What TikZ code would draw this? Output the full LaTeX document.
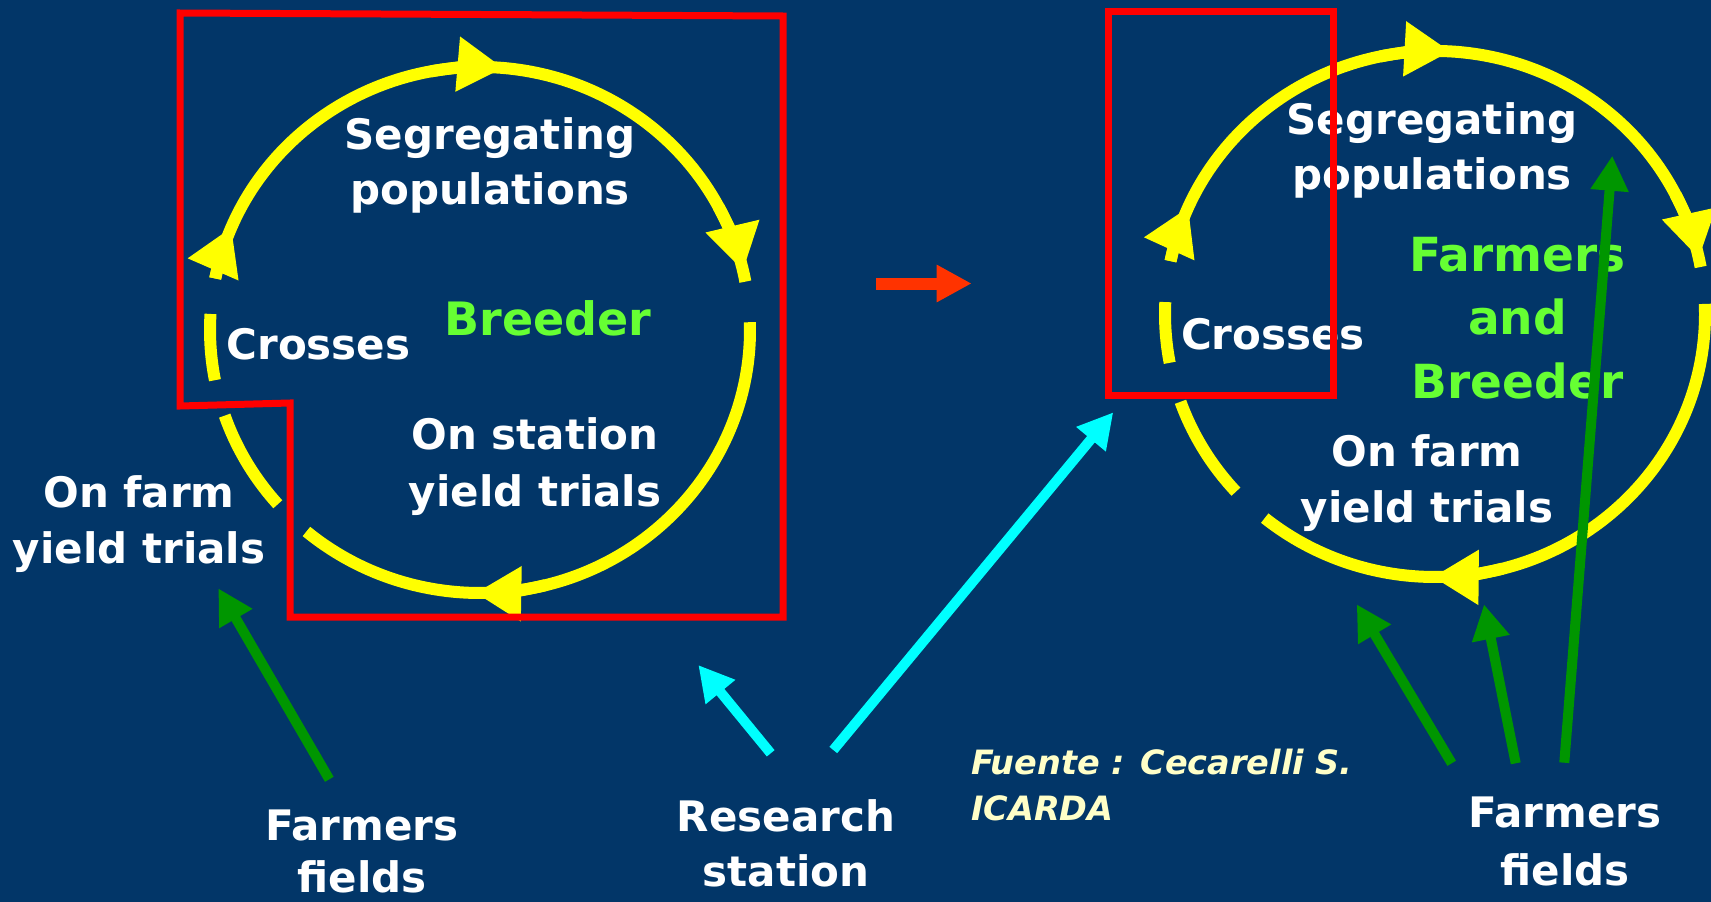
\documentclass[tikz,border=0pt]{standalone}
\usepackage{fontspec}
\setmainfont{DejaVu Sans}
\usetikzlibrary{calc,arrows.meta}

\definecolor{navy}{RGB}{2,54,104}
\definecolor{ringyellow}{RGB}{255,255,0}
\definecolor{boxred}{RGB}{255,0,0}
\definecolor{fieldgreen}{RGB}{0,150,0}
\definecolor{stationcyan}{RGB}{0,255,255}
\definecolor{actorgreen}{RGB}{102,255,51}
\definecolor{shiftred}{RGB}{255,51,0}
\definecolor{notecream}{RGB}{255,255,200}

\tikzset{
  ell/.style={x radius=270, y radius=263},
  ring/.style={draw=ringyellow, line width=12pt},
  ringtip/.style={ring, -{Triangle[length=46pt,width=52pt]}},
  lbl/.style={text=white, anchor=base, inner sep=0pt,
    font=\fontsize{42}{56}\selectfont\bfseries},
  actor/.style={text=actorgreen, anchor=base, inner sep=0pt,
    font=\fontsize{47}{63}\selectfont\bfseries},
  note/.style={text=notecream, anchor=base west, inner sep=0pt,
    font=\fontsize{33.5}{46}\selectfont\bfseries\itshape},
  frame/.style={draw=boxred, line width=7pt, line join=miter},
  flow/.style={line width=10pt, -{Triangle[length=35pt,width=36pt]}},
}

\begin{document}
\begin{tikzpicture}[x=1pt,y=1pt]
  % page and background
  \fill[navy] (0,0) rectangle (1711,-902);
  \useasboundingbox (0,0) rectangle (1711,-902);

  % ---------------- conventional breeding cycle ----------------
  \coordinate (Lc) at (480,-330);
  \draw[ring] ($(Lc)+(168.7:270 and 263)$) arc[ell, start angle=168.7, end angle=10.6];
  \draw[ring] ($(Lc)+(176.5:270 and 263)$) arc[ell, start angle=176.5, end angle=191];
  \draw[ring] ($(Lc)+(199:270 and 263)$) arc[ell, start angle=199, end angle=221.5];
  \draw[ring] ($(Lc)+(361.7:270 and 263)$) arc[ell, start angle=361.7, end angle=230];
  \draw[ringtip] ($(Lc)+(168.7:270 and 263)$) arc[ell, start angle=168.7, end angle=157];
  \draw[ringtip] ($(Lc)+(100.5:270 and 263)$) arc[ell, start angle=100.5, end angle=85];
  \draw[ringtip] ($(Lc)+(28:270 and 263)$) arc[ell, start angle=28, end angle=13];
  \draw[ringtip] ($(Lc)+(284:270 and 263)$) arc[ell, start angle=284, end angle=269];

  \node[lbl] (segL) at (490,-149) {Segregating};
  \node[lbl] (popL) at (490,-204) {populations};
  \node[lbl] (crossL) at (318.5,-359) {Crosses};
  \node[actor, font=\fontsize{46}{56}\selectfont\bfseries] (breederL) at (548,-335.5) {Breeder};
  \node[lbl] (stationL) at (535,-449) {On station};
  \node[lbl] (yieldL) at (535,-506) {yield trials};
  \node[lbl] (farmL) at (139,-507) {On farm};
  \node[lbl] (farmyieldL) at (139,-563) {yield trials};
  \node[lbl] (fieldsL1) at (362,-840) {Farmers};
  \node[lbl] (fieldsL2) at (362,-892) {fields};
  \node[lbl] (research1) at (786,-831.5) {Research};
  \node[lbl] (research2) at (786,-886) {station};

  % ---------------- participatory breeding cycle ----------------
  \coordinate (Rc) at (1435,-314);
  \draw[ring] ($(Rc)+(168.4:270 and 263)$) arc[ell, start angle=168.4, end angle=10.3];
  \draw[ring] ($(Rc)+(177.4:270 and 263)$) arc[ell, start angle=177.4, end angle=190.7];
  \draw[ring] ($(Rc)+(199.5:270 and 263)$) arc[ell, start angle=199.5, end angle=222.5];
  \draw[ring] ($(Rc)+(362.2:270 and 263)$) arc[ell, start angle=362.2, end angle=230.9];
  \draw[ringtip] ($(Rc)+(168.4:270 and 263)$) arc[ell, start angle=168.4, end angle=156];
  \draw[ringtip] ($(Rc)+(101.7:270 and 263)$) arc[ell, start angle=101.7, end angle=86.7];
  \draw[ringtip] ($(Rc)+(27:270 and 263)$) arc[ell, start angle=27, end angle=12.2];
  \draw[ringtip] ($(Rc)+(284.5:270 and 263)$) arc[ell, start angle=284.5, end angle=269.5];

  \node[lbl] (segR) at (1432,-134.7) {Segregating};
  \node[lbl] (popR) at (1432,-189.8) {populations};
  \node[lbl] (crossR) at (1273,-349) {Crosses};
  \node[actor] (actR1) at (1517.5,-271.4) {Farmers};
  \node[actor] (actR2) at (1517.5,-334.7) {and};
  \node[actor] (actR3) at (1517.5,-398) {Breeder};
  \node[lbl] (farmR) at (1427,-466) {On farm};
  \node[lbl] (yieldR) at (1427,-522) {yield trials};
  \node[lbl] (fieldsR1) at (1565,-827) {Farmers};
  \node[lbl] (fieldsR2) at (1565,-885) {fields};

  \node[note] (src1) at (971,-774) {Fuente : Cecarelli S.};
  \node[note] (src2) at (971,-820) {ICARDA};

  % ---------------- responsibility frames ----------------
  \draw[frame] (180,-13) -- (783,-16) -- (783,-617) -- (290,-617)
               -- (290,-403) -- (180,-406) -- cycle;
  \draw[frame] (1108.5,-11.5) rectangle (1333,-395);

  % ---------------- arrows ----------------
  \coordinate (shiftA) at (876,-283.5);
  \coordinate (shiftB) at (971.7,-283.5);
  \draw[flow, draw=shiftred, line width=12pt,
        -{Triangle[length=35pt,width=35pt]}] (shiftA) -- (shiftB);

  \coordinate (gL0) at (329.3,-779.3);
  \coordinate (gL1) at (218.3,-588.3);
  \draw[flow, draw=fieldgreen] (gL0) -- (gL1);

  \coordinate (c0) at (770.7,-753.3);
  \coordinate (c1) at (698.3,-665);
  \coordinate (d0) at (833.3,-750);
  \coordinate (d1) at (1113.3,-412.3);
  \draw[flow, draw=stationcyan] (c0) -- (c1);
  \draw[flow, draw=stationcyan] (d0) -- (d1);

  \coordinate (g10) at (1451.7,-763.3);
  \coordinate (g11) at (1356.7,-604.3);
  \coordinate (g20) at (1515.7,-763.3);
  \coordinate (g21) at (1484,-604.3);
  \coordinate (g30) at (1564.3,-762.7);
  \coordinate (g31) at (1612.3,-155.7);
  \draw[flow, draw=fieldgreen] (g10) -- (g11);
  \draw[flow, draw=fieldgreen] (g20) -- (g21);
  \draw[flow, draw=fieldgreen] (g30) -- (g31);
\end{tikzpicture}
\end{document}
